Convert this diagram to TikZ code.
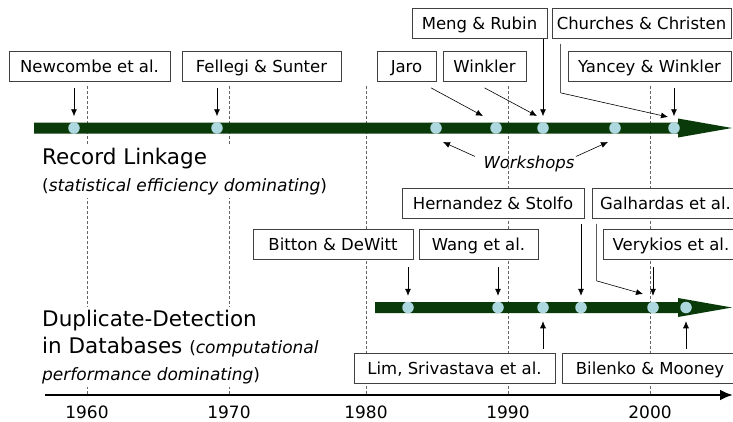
\documentclass[tikz,border=0pt]{standalone}
\usepackage{fontspec}
\setmainfont{DejaVu Sans}
\usetikzlibrary{arrows.meta,calc}

\definecolor{bargreen}{HTML}{0A3A0A}
\definecolor{dotblue}{HTML}{ADD8E0}

\begin{document}
\begin{tikzpicture}[x=1pt, y=-1pt,
  ref/.style={draw=black!75, line width=0.7pt, fill=white, font=\fontsize{16.5}{20}\selectfont,
    minimum height=30pt, inner xsep=4pt, text height=12pt, text depth=0pt},
  evt/.style={circle, fill=dotblue, minimum size=11.5pt, inner sep=0pt, outer sep=0pt},
  pointer/.style={-{Latex[length=7pt,width=6pt]}, line width=0.6pt},
  yearline/.style={black!60, line width=0.6pt, dash pattern=on 3pt off 2pt},
  title/.style={anchor=north west, fill=white, inner xsep=2pt, inner ysep=3pt, align=left,
    font=\fontsize{21.5}{27}\selectfont}]

\useasboundingbox (0,0) rectangle (733,421);
\clip (0,0) rectangle (733,421);

% decades
\draw [yearline] (87,86) -- (87,395);
\draw [yearline] (229,86) -- (229,395);
\draw [yearline] (366,86) -- (366,395);
\draw [yearline] (508,86) -- (508,395);
\draw [yearline] (650,86) -- (650,395);

\node (y1960) at (87,418) [anchor=base, font=\fontsize{17}{20}\selectfont] {1960};
\node (y1970) at (229,418) [anchor=base, font=\fontsize{17}{20}\selectfont] {1970};
\node (y1980) at (366,418) [anchor=base, font=\fontsize{17}{20}\selectfont] {1980};
\node (y1990) at (508,418) [anchor=base, font=\fontsize{17}{20}\selectfont] {1990};
\node (y2000) at (650,418) [anchor=base, font=\fontsize{17}{20}\selectfont] {2000};

% time axis
\coordinate (axstart) at (45,395);
\coordinate (axend) at (733,395);
\draw [line width=2.7pt, -{Latex[length=13pt,width=11pt]}] (axstart) -- (axend);

% the two timelines
\fill [bargreen] (34,122.5) -- (678,122.5) -- (678,118.5) -- (732,128)
  -- (678,137.5) -- (678,133.5) -- (34,133.5) -- cycle;
\fill [bargreen] (375,302) -- (678,302) -- (678,298) -- (732,307.5)
  -- (678,317) -- (678,313) -- (375,313) -- cycle;

\node [evt] (rl1) at (74,128) {};
\node [evt] (rl2) at (217,128) {};
\node [evt] (rl3) at (436,128) {};
\node [evt] (rl4) at (496,128) {};
\node [evt] (rl5) at (543,128) {};
\node [evt] (rl6) at (615,128) {};
\node [evt] (rl7) at (674,128) {};

\node [evt] (dd1) at (408,307.5) {};
\node [evt] (dd2) at (498,307.5) {};
\node [evt] (dd3) at (543,307.5) {};
\node [evt] (dd4) at (581,307.5) {};
\node [evt] (dd5) at (653,307.5) {};
\node [evt] (dd6) at (686,307.5) {};

% record linkage papers
\node [ref, minimum width=161pt] (newcombe) at (89.5,66.5) {Newcombe et al.};
\node [ref, minimum width=159pt] (fellegi) at (261.5,66.5) {Fellegi \& Sunter};
\node [ref, minimum width=59pt] (jaro) at (406.5,66.5) {Jaro};
\node [ref, minimum width=83pt] (winkler) at (484.5,66.5) {Winkler};
\node [ref, minimum width=135pt] (meng) at (479.5,23.5) {Meng \& Rubin};
\node [ref, minimum width=179pt] (churches) at (641.5,23.5) {Churches \& Christen};
\node [ref, minimum width=163pt] (yancey) at (649.5,66.5) {Yancey \& Winkler};

\draw [pointer, shorten <=6pt, shorten >=6pt] (rl1 |- newcombe.south) -- (rl1);
\draw [pointer, shorten <=6pt, shorten >=6pt] (rl2 |- fellegi.south) -- (rl2);
\draw [pointer] ([shift={(24.5,6)}]jaro.south) -- ($(rl4)+(-13,-12)$);
\draw [pointer] ([shift={(0,6)}]winkler.south) -- ($(rl5)+(-6,-12)$);
\draw [pointer, shorten >=6pt] (rl5 |- meng.south) -- (rl5);
\draw [pointer] ([shift={(9,5)}]churches.south west) -- ++(0,49) -- ($(rl7)+(-6,-11)$);
\draw [pointer, shorten <=6pt, shorten >=6pt] (rl7 |- yancey.south) -- (rl7);

\node (ws) at (529,168) [anchor=base, font=\fontsize{16.5}{20}\selectfont\itshape] {Workshops};
\draw [pointer] ($(ws.west)+(-5,-7)$) -- ($(rl3)+(7,14)$);
\draw [pointer] ($(ws.east)+(-2,-7)$) -- ($(rl6)+(-7,14)$);

% duplicate detection papers
\node [ref, minimum width=182pt] (hernandez) at (493,203.5) {Hernandez \& Stolfo};
\node [ref, minimum width=147pt] (galhardas) at (665.5,203.5) {Galhardas et al.};
\node [ref, minimum width=160pt] (bitton) at (333,244) {Bitton \& DeWitt};
\node [ref, minimum width=119pt] (wang) at (478.5,244) {Wang et al.};
\node [ref, minimum width=136pt] (verykios) at (671,244) {Verykios et al.};
\node [ref, minimum width=201pt] (lim) at (454.5,368) {Lim, Srivastava et al.};
\node [ref, minimum width=176pt] (bilenko) at (650,368) {Bilenko \& Mooney};

\draw [pointer, shorten <=8pt, shorten >=6pt] (dd1 |- bitton.south) -- (dd1);
\draw [pointer, shorten <=8pt, shorten >=6pt] (dd2 |- wang.south) -- (dd2);
\draw [pointer, shorten <=5pt, shorten >=6pt] (dd4 |- hernandez.south) -- (dd4);
\draw [pointer] ([shift={(5,5)}]galhardas.south west) -- ++(0,57) -- ($(dd5)+(-10,-13.5)$);
\draw [pointer, shorten <=8pt, shorten >=6pt] (dd5 |- verykios.south) -- (dd5);
\draw [pointer, shorten <=4pt, shorten >=8pt] (dd3 |- lim.north) -- (dd3);
\draw [pointer, shorten <=4pt, shorten >=8pt] (dd6 |- bilenko.north) -- (dd6);

% the two communities
\node [title] (rltitle) at (40,144.7)
  {Record Linkage\\{\fontsize{17}{27}\selectfont(\textit{statistical efficiency dominating})}};
\node [title] (ddtitle) at (40,306.7)
  {Duplicate-Detection\\in Databases {\fontsize{17}{27}\selectfont(\textit{computational}}\\{\fontsize{17}{27}\selectfont\textit{performance dominating})}};

\end{tikzpicture}
\end{document}
